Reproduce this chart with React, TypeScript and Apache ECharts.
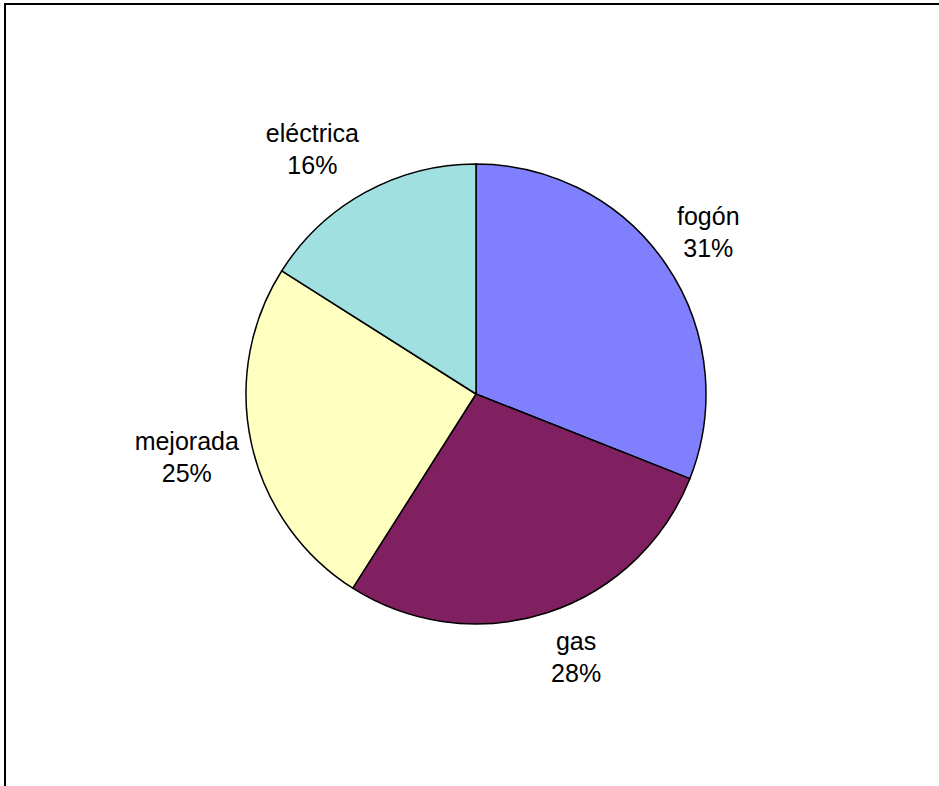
import React, { useEffect, useRef } from "react";
import * as echarts from "echarts";

const categories = ["fogón", "gas", "mejorada", "eléctrica"];
const values = [31, 28, 25, 16];
const colors = ["#8080FF", "#802060", "#FFFFC0", "#A0E0E0"];

const CX = 476;
const CY = 394;
const R = 230;
const GAP = 13;

export default function App() {
  const ref = useRef<HTMLDivElement>(null);
  useEffect(() => {
    if (!ref.current) return;
    const chart = echarts.init(ref.current, null, { renderer: "svg" });
    const total = values.reduce((a, b) => a + b, 0);
    const midAngles: number[] = [];
    let acc = 0;
    values.forEach((v) => {
      midAngles.push(((acc + v / 2) / total) * Math.PI * 2);
      acc += v;
    });
    chart.setOption({
      animation: false,
      backgroundColor: "#ffffff",
      graphic: [
        {
          type: "rect",
          shape: { x: 5, y: 4, width: 1200, height: 1200 },
          style: { fill: "none", stroke: "#000", lineWidth: 2 },
          silent: true,
        },
      ],
      series: [
        {
          type: "pie",
          center: [CX, CY],
          radius: [0, R],
          startAngle: 90,
          clockwise: true,
          percentPrecision: 0,
          data: categories.map((name, i) => ({
            name,
            value: values[i],
            itemStyle: { color: colors[i] },
          })),
          itemStyle: { borderColor: "#000", borderWidth: 1.5 },
          emphasis: { disabled: true },
          label: {
            show: true,
            position: "outside",
            formatter: "{b}\n{d}%",
            fontFamily: "Liberation Sans, Arial, sans-serif",
            fontSize: 25,
            lineHeight: 32,
            color: "#000",
            align: "center",
          },
          labelLine: { show: false },
          labelLayout: (params: any) => {
            const th = midAngles[params.dataIndex];
            const w = params.labelRect.width;
            const h = params.labelRect.height;
            const s = Math.sin(th);
            const c = Math.cos(th);
            const d = R + GAP;
            const px = CX + d * s;
            const py = CY - d * c;
            const ox = Math.sign(s) * (w / 2) * Math.min(1, Math.abs(s) / 0.15);
            const oy = -Math.sign(c) * (h / 2) * Math.min(1, Math.abs(c) / 0.7);
            return {
              x: px + ox,
              y: py + oy,
              align: "center",
              verticalAlign: "middle",
            };
          },
        },
      ],
    });
    return () => chart.dispose();
  }, []);
  return (
    <div
      ref={ref}
      style={{ position: "fixed", left: 0, top: 0, width: 939, height: 786 }}
    />
  );
}
